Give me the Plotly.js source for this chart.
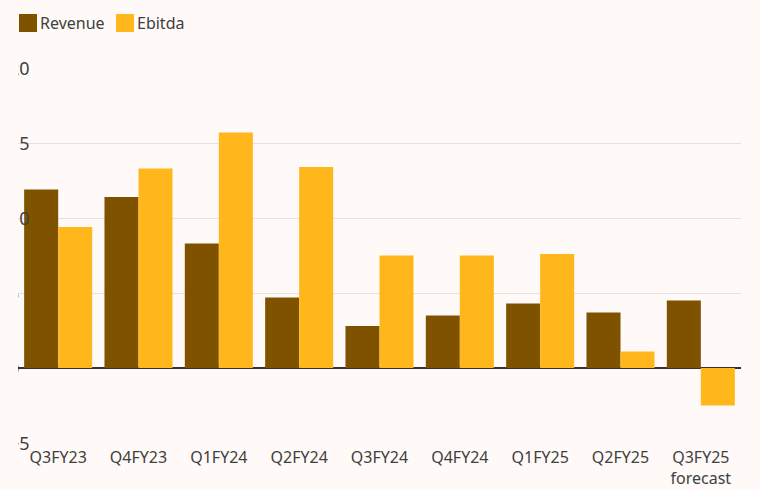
<!DOCTYPE html>
<html>
<head>
<meta charset="utf-8">
<script src="https://cdn.plot.ly/plotly-3.0.1.min.js"></script>
<style>
  html, body { margin: 0; padding: 0; background: #fff9f8; }
  #clip { position: absolute; left: 18px; top: 0; width: 742px; height: 490px; overflow: hidden; }
  #chart { position: absolute; left: -18px; top: 0; width: 760px; height: 490px; }
</style>
</head>
<body>
<div id="clip"><div id="chart"></div></div>
<script>
const categories = ['Q3FY23', 'Q4FY23', 'Q1FY24', 'Q2FY24', 'Q3FY24', 'Q4FY24', 'Q1FY25', 'Q2FY25', 'Q3FY25<br>forecast'];
const revenue = [11.9, 11.4, 8.3, 4.7, 2.8, 3.5, 4.3, 3.7, 4.5];
const ebitda = [9.4, 13.3, 15.7, 13.4, 7.5, 7.5, 7.6, 1.1, -2.5];
const seriesNames = ['Revenue', 'Ebitda'];
const yTickVals = [20, 15, 10, 5, 0, -5];
const yTickText = ['20', '15', '10', '5', '0', '\u22125'];

const colors = ['#7f5200', '#ffb71b'];
const W = 760, H = 490;
const M = { l: 18, r: 19, t: 68, b: 47 };
const pw = W - M.l - M.r, ph = H - M.t - M.b;
const px2x = p => (p - M.l) / pw;
const py2y = p => (H - M.b - p) / ph;
const fontFam = '"Noto Sans", "Open Sans", sans-serif';
const textColor = '#404040';

const traces = [
  { type: 'bar', name: seriesNames[0], x: categories, y: revenue, marker: { color: colors[0], line: { width: 0 } }, hoverinfo: 'skip' },
  { type: 'bar', name: seriesNames[1], x: categories, y: ebitda, marker: { color: colors[1], line: { width: 0 } }, hoverinfo: 'skip' }
];

const annotations = yTickVals.map((v, i) => ({
  xref: 'paper', yref: 'y', x: px2x(7), y: v, xanchor: 'left', yanchor: 'middle',
  text: yTickText[i], showarrow: false, font: { family: fontFam, size: 18, color: textColor }
}));

const shapes = [];
const legendX = [[19, 40], [116, 137]];
seriesNames.forEach((n, i) => {
  shapes.push({ type: 'rect', xref: 'paper', yref: 'paper', x0: px2x(legendX[i][0]), x1: px2x(legendX[i][0] + 18),
    y0: py2y(32), y1: py2y(14), fillcolor: colors[i], line: { width: 0 } });
  annotations.push({ xref: 'paper', yref: 'paper', x: px2x(legendX[i][1] - 2), y: py2y(23), xanchor: 'left', yanchor: 'middle',
    text: n, showarrow: false, font: { family: fontFam, size: 16, color: textColor } });
});

const layout = {
  width: W, height: H,
  margin: M,
  paper_bgcolor: '#fff9f8', plot_bgcolor: '#fff9f8',
  showlegend: false,
  barmode: 'group', bargap: 0.153, bargroupgap: 0,
  font: { family: fontFam, size: 16, color: textColor },
  xaxis: { type: 'category', showgrid: false, zeroline: false, showline: false, ticks: '', ticklabelstandoff: 3,
    tickfont: { family: fontFam, size: 16, color: textColor }, fixedrange: true },
  yaxis: { range: [-5, 20], tickvals: yTickVals, showticklabels: false, showgrid: true, gridcolor: '#e6e0df', gridwidth: 1,
    zeroline: true, zerolinecolor: '#333333', zerolinewidth: 2, showline: false, ticks: '', fixedrange: true },
  shapes: shapes,
  annotations: annotations
};

Plotly.newPlot('chart', traces, layout, { displayModeBar: false, staticPlot: true });
</script>
</body>
</html>
